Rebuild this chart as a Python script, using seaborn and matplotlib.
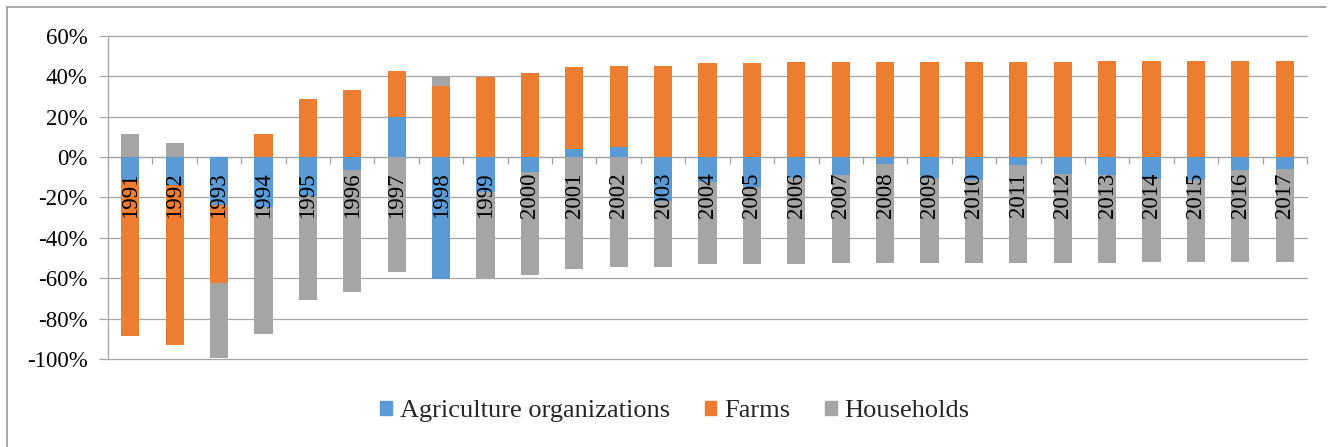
import numpy as np
import pandas as pd
import seaborn as sns
import matplotlib.pyplot as plt
from matplotlib.lines import Line2D
from matplotlib.ticker import FuncFormatter

# values (percent)
years = [str(y) for y in range(1991, 2018)]
agri_orgs = [-11.2, -13.7, -24.0, -24.7, -19.2, -6.5, 19.8, -60.6, -17.4, -7.4,
             4.0, 5.1, -21.9, -12.4, -14.8, -10.4, -9.1, -3.3, -10.4, -11.6,
             -4.1, -8.2, -8.7, -10.7, -11.2, -6.3, -5.8]
farms = [-77.4, -79.3, -38.2, 11.4, 28.6, 33.1, 22.7, 34.9, 39.8, 41.3,
         40.4, 40.0, 45.1, 46.4, 46.4, 46.9, 46.9, 46.9, 46.9, 46.9,
         46.9, 46.9, 47.6, 47.6, 47.6, 47.6, 47.6]
households = [11.4, 6.9, -37.4, -63.0, -51.6, -60.3, -56.8, 4.8, -42.4, -50.9,
              -55.6, -54.3, -32.4, -40.8, -38.4, -42.8, -43.2, -49.0, -41.9, -40.7,
              -48.2, -44.1, -43.6, -41.2, -40.7, -45.6, -46.1]
series_names = ['Agriculture organizations', 'Farms', 'Households']
colors = ['#5b9bd5', '#ed7d31', '#a5a5a5']

df = pd.DataFrame({'year': years, 'agri': agri_orgs, 'farms': farms, 'hh': households})

sns.set_theme(style='white')
plt.rcParams['font.family'] = ['Liberation Serif', 'DejaVu Serif']
plt.rcParams['axes.unicode_minus'] = False

W, H = 1335, 447
fig = plt.figure(figsize=(W / 100, H / 100), dpi=100)
ax = fig.add_axes([108 / W, 1 - 359 / H, (1307 - 108) / W, (359 - 35.7) / H])

grid_c = '#a6a6a6'
for v in range(-100, 61, 20):
    ax.axhline(v, color=grid_c, lw=0.9, zorder=0, clip_on=False)

# Excel-style stacking: positives stack up, negatives stack down, same series order
for part in (df[['agri', 'farms', 'hh']].clip(lower=0), df[['agri', 'farms', 'hh']].clip(upper=0)):
    cum = part.cumsum(axis=1)
    for col, c in zip(['hh', 'farms', 'agri'], colors[::-1]):
        sns.barplot(x=df['year'], y=cum[col], order=years, color=c, saturation=1,
                    width=0.41, linewidth=0, errorbar=None, ax=ax, zorder=1)

ax.set_axisbelow(False)
ax.set_xlim(-0.5, len(years) - 0.5)
ax.set_ylim(-100, 60)
ax.set_xlabel('')
ax.set_ylabel('')

# x axis sits on zero, ticks between categories, year labels below zero line
ax.spines['bottom'].set_position(('data', 0))
ax.spines['bottom'].set_color(grid_c)
ax.spines['bottom'].set_linewidth(0.9)
ax.spines['bottom'].set_zorder(0.5)
ax.spines['left'].set_color(grid_c)
ax.spines['left'].set_linewidth(0.9)
ax.spines['top'].set_visible(False)
ax.spines['right'].set_visible(False)

ax.set_xticks(np.arange(-0.5, len(years), 1))
ax.set_xticklabels([])
ax.set_xticks(np.arange(len(years)), minor=True)
ax.set_xticklabels(years, minor=True, rotation=90, fontsize=16.5, va='top')
ax.tick_params(axis='x', which='major', direction='out', length=5, width=0.9, color=grid_c, bottom=True)
ax.tick_params(axis='x', which='minor', length=0, pad=11, colors='black')

ax.set_yticks(range(-100, 61, 20))
ax.yaxis.set_major_formatter(FuncFormatter(lambda v, p: f"{v:.0f}%"))
ax.tick_params(axis='y', direction='out', length=6.5, width=0.9, color=grid_c,
               labelsize=16.5, pad=8, labelcolor='black', left=True)

handles = [plt.Rectangle((0, 0), 1, 1, color=c) for c in colors]
fig.legend(handles, series_names, loc='center', bbox_to_anchor=(675 / W, 1 - 411 / H),
           ncol=3, frameon=False, fontsize=19, handlelength=0.45, handleheight=0.45,
           handletextpad=0.3, columnspacing=1.3)

# chart area border (only top and left visible in the crop)
fig.add_artist(Line2D([7 / W, 1326 / W], [1 - 7 / H, 1 - 7 / H], color='#9a9a9a', lw=1.2))
fig.add_artist(Line2D([7 / W, 7 / W], [1 - 7 / H, 0], color='#9a9a9a', lw=1.2))

fig.savefig('out.png', dpi=100)
